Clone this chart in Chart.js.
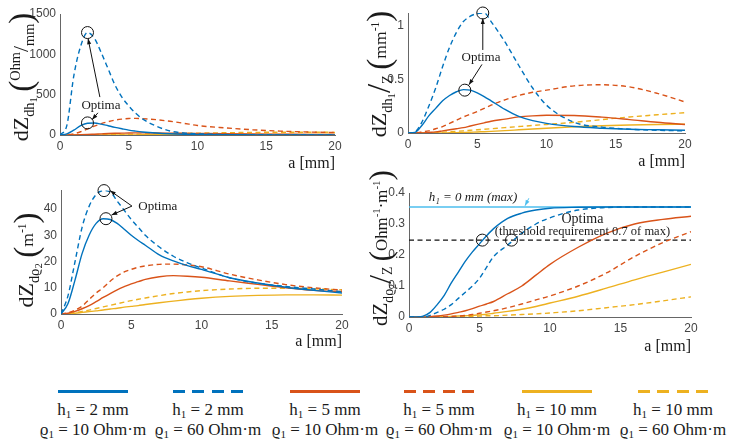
<!DOCTYPE html>
<html>
<head>
<meta charset="utf-8">
<script src="https://cdn.jsdelivr.net/npm/chart.js@4.4.0/dist/chart.umd.min.js"></script>
<style>
  body { margin: 0; width: 734px; height: 448px; background: #fff; position: relative; overflow: hidden; font-family: "Liberation Serif", serif; color: #1a1a1a; }
  canvas { position: absolute; }
  .ylab { position: absolute; transform: translate(-50%, -50%) rotate(-90deg); white-space: nowrap; font-size: 22px; line-height: 1; }
  .ylab sub { font-size: 65%; vertical-align: -0.4em; }
  .ylab sub sub { font-size: 75%; vertical-align: -0.3em; }
  .ylab sup { font-size: 65%; vertical-align: 0.6em; }
  .ylab .par { font-size: 150%; font-weight: 100; vertical-align: -0.12em; }
  .ylab .sm { font-size: 80%; }
  .leg { position: absolute; width: 130px; text-align: center; font-size: 17px; line-height: 20px; }
  .leg .ln { width: 70px; height: 3px; margin: 0 auto 7px auto; }
  .leg sub { font-size: 65%; vertical-align: -0.25em; line-height: 0; }
</style>
</head>
<body>
<canvas id="cA" width="367" height="175" style="left:0;top:0"></canvas>
<canvas id="cB" width="367" height="175" style="left:367px;top:0"></canvas>
<canvas id="cC" width="367" height="185" style="left:0;top:175px"></canvas>
<canvas id="cD" width="367" height="185" style="left:367px;top:175px"></canvas>

<div class="ylab" style="left:22px;top:77px">dZ<sub>dh<sub>1</sub></sub>&nbsp;<span class="par">(</span><sup>Ohm</sup>/<sub>mm</sub><span class="par">)</span></div>
<div class="ylab" style="left:380px;top:74px">dZ<sub>dh<sub>1</sub></sub><span class="par">/</span><sub>Z</sub>&nbsp;<span class="par">(</span><span class="sm">mm<sup>-1</sup></span><span class="par">)</span></div>
<div class="ylab" style="left:27px;top:260px">dZ<sub>dϱ<sub>2</sub></sub>&nbsp;<span class="par">(</span><span class="sm">m<sup>-1</sup></span><span class="par">)</span></div>
<div class="ylab" style="left:381px;top:248px;font-size:21px">dZ<sub>dϱ<sub>2</sub></sub><span class="par">/</span><sub>Z</sub>&nbsp;<span class="par">(</span><span class="sm">Ohm<sup>-1</sup>·m<sup>-1</sup></span><span class="par">)</span></div>

<div id="legend"></div>

<script>
// a [mm] sample points shared by every curve
const aPts = [0, 0.5, 1, 1.5, 2, 2.5, 3, 3.5, 4, 4.5, 5, 5.5, 6, 7, 8, 9, 10, 12, 14, 16, 18, 20];

// dZ/dh1 (Ohm/mm)
const dh1_h2_r10 = [0, 15, 60, 115, 145, 148, 135, 115, 95, 77, 60, 48, 38, 24, 15, 10, 7, 3, 2, 1, 1, 0];
const dh1_h2_r60 = [0, 120, 730, 1100, 1270, 1200, 1020, 820, 620, 470, 360, 270, 200, 110, 50, 25, 15, 6, 3, 2, 1, 1];
const dh1_h5_r10 = [0, 0, 1, 3, 6, 10, 14, 18, 21, 23, 25, 26, 26, 25, 23, 21, 19, 15, 12, 10, 8, 7];
const dh1_h5_r60 = [0, 2, 15, 40, 75, 110, 140, 165, 185, 197, 205, 206, 203, 190, 170, 145, 118, 88, 65, 48, 37, 30];
const dh1_h10_r10 = [0, 0, 0, 0, 0, 0, 1, 1, 1, 2, 2, 2, 3, 3, 4, 4, 5, 5, 6, 6, 6, 6];
const dh1_h10_r60 = [0, 0, 0, 1, 1, 2, 3, 4, 5, 6, 8, 9, 11, 14, 17, 20, 23, 28, 32, 34, 34, 33];

// dZ/dh1 / Z (mm^-1)
const rel1_h2_r10 = [0, 0.005, 0.07, 0.16, 0.23, 0.3, 0.35, 0.385, 0.405, 0.4, 0.375, 0.34, 0.3, 0.22, 0.155, 0.115, 0.09, 0.06, 0.045, 0.035, 0.03, 0.025];
const rel1_h2_r60 = [0, 0.01, 0.1, 0.25, 0.42, 0.62, 0.8, 0.94, 1.04, 1.09, 1.115, 1.12, 1.04, 0.85, 0.63, 0.42, 0.26, 0.1, 0.055, 0.035, 0.025, 0.02];
const rel1_h5_r10 = [0, 0, 0, 0.005, 0.01, 0.02, 0.03, 0.04, 0.05, 0.065, 0.08, 0.095, 0.11, 0.13, 0.15, 0.16, 0.165, 0.163, 0.148, 0.125, 0.1, 0.08];
const rel1_h5_r60 = [0, 0, 0.01, 0.02, 0.04, 0.06, 0.09, 0.12, 0.15, 0.175, 0.2, 0.23, 0.26, 0.31, 0.35, 0.38, 0.4, 0.44, 0.45, 0.43, 0.37, 0.29];
const rel1_h10_r10 = [0, 0, 0, 0, 0, 0, 0.002, 0.003, 0.005, 0.007, 0.01, 0.012, 0.015, 0.022, 0.03, 0.038, 0.045, 0.058, 0.068, 0.075, 0.08, 0.082];
const rel1_h10_r60 = [0, 0, 0, 0, 0.005, 0.008, 0.012, 0.016, 0.02, 0.025, 0.03, 0.035, 0.04, 0.05, 0.06, 0.07, 0.08, 0.1, 0.125, 0.15, 0.17, 0.19];

// dZ/drho2 (m^-1)
const dr2_h2_r10 = [0, 4, 13, 23, 30, 34.5, 36.3, 36, 34.5, 32.3, 30, 28, 26.2, 22.5, 20.2, 18.4, 17, 13.8, 11.8, 10.2, 9, 8];
const dr2_h2_r60 = [0, 7, 20, 33, 41, 45.5, 47, 46.5, 43, 39.5, 36, 33, 30, 25.5, 22, 19.5, 17.5, 13.8, 11.7, 10.5, 9.5, 8.5];
const dr2_h5_r10 = [0, 0.3, 1, 2, 3.2, 4.7, 6.3, 7.8, 9.2, 10.4, 11.5, 12.3, 13.2, 14.2, 14.6, 14.4, 14, 12.6, 11.3, 10, 9, 8.5];
const dr2_h5_r60 = [0, 0.5, 1.5, 3, 5.5, 8, 10, 12.5, 14.5, 16, 17, 17.8, 18.3, 18.9, 19, 18.7, 18, 15.2, 13, 11.2, 10, 9.1];
const dr2_h10_r10 = [0, 0.1, 0.3, 0.6, 0.9, 1.2, 1.5, 1.9, 2.2, 2.6, 2.9, 3.2, 3.6, 4.3, 4.9, 5.5, 6, 6.7, 7.1, 7.3, 7.3, 7.2];
const dr2_h10_r60 = [0, 0.2, 0.5, 1, 1.5, 2.1, 2.7, 3.3, 3.9, 4.5, 5.1, 5.6, 6.1, 7, 7.8, 8.4, 8.9, 9.5, 9.8, 9.8, 9.6, 9.2];

// dZ/drho2 / Z (Ohm^-1 m^-1)
const rel2_h2_r10 = [0, 0, 0.003, 0.015, 0.04, 0.07, 0.11, 0.145, 0.18, 0.21, 0.236, 0.262, 0.285, 0.318, 0.335, 0.345, 0.351, 0.354, 0.355, 0.355, 0.355, 0.355];
const rel2_h2_r60 = [0, 0, 0, 0.005, 0.015, 0.025, 0.04, 0.06, 0.08, 0.1, 0.125, 0.16, 0.195, 0.232, 0.27, 0.3, 0.32, 0.345, 0.353, 0.355, 0.355, 0.355];
const rel2_h5_r10 = [0, 0, 0, 0.001, 0.003, 0.006, 0.01, 0.015, 0.02, 0.027, 0.035, 0.042, 0.05, 0.075, 0.1, 0.135, 0.17, 0.225, 0.27, 0.3, 0.315, 0.325];
const rel2_h5_r60 = [0, 0, 0, 0, 0, 0.001, 0.002, 0.003, 0.005, 0.008, 0.012, 0.016, 0.02, 0.03, 0.042, 0.055, 0.068, 0.1, 0.142, 0.195, 0.24, 0.275];
const rel2_h10_r10 = [0, 0, 0, 0, 0, 0.001, 0.002, 0.003, 0.004, 0.005, 0.007, 0.009, 0.012, 0.018, 0.025, 0.034, 0.045, 0.067, 0.093, 0.12, 0.145, 0.17];
const rel2_h10_r60 = [0, 0, 0, 0, 0, 0, 0, 0.001, 0.001, 0.002, 0.003, 0.004, 0.004, 0.006, 0.008, 0.01, 0.013, 0.02, 0.03, 0.04, 0.052, 0.065];

// reference levels in the last panel
const levelA = [0, 20];
const maxLevel = 0.355;      // h1 = 0 mm (max)
const threshold = 0.248;     // 0.7 of max

// optima markers [a, value]
const optimaA = [[2, 1270], [2, 150]];
const optimaB = [[5.4, 1.12], [4.1, 0.4]];
const optimaC = [[3.06, 47], [3.2, 36.3]];
const optimaD = [[5.2, threshold], [7.27, threshold]];

// legend entries
const legendH = ['2', '2', '5', '5', '10', '10'];
const legendRho = ['10', '60', '10', '60', '10', '60'];

const BLUE = '#0072BD', ORANGE = '#D95319', YELLOW = '#EDB120', SKY = '#4DBEEE';
const DASH = [5, 3.5];
const styles = [
  { color: BLUE, dash: [] }, { color: BLUE, dash: DASH },
  { color: ORANGE, dash: [] }, { color: ORANGE, dash: DASH },
  { color: YELLOW, dash: [] }, { color: YELLOW, dash: DASH }
];

Chart.defaults.font.family = '"Liberation Sans", Arial, sans-serif';
Chart.defaults.font.size = 12;
Chart.defaults.color = '#444';

const SERIF = '"Liberation Serif", serif';

const notesPlugin = {
  id: 'notes',
  afterDatasetsDraw(chart, args, opts) {
    const { ctx } = chart;
    const x = chart.scales.x, y = chart.scales.y;
    ctx.save();
    (opts.arrows || []).forEach(ar => {
      const x1 = x.getPixelForValue(ar.from[0]), y1 = y.getPixelForValue(ar.from[1]);
      const x2 = x.getPixelForValue(ar.to[0]), y2 = y.getPixelForValue(ar.to[1]);
      ctx.strokeStyle = ar.color || '#111';
      ctx.fillStyle = ar.color || '#111';
      ctx.lineWidth = 1;
      ctx.beginPath(); ctx.moveTo(x1, y1); ctx.lineTo(x2, y2); ctx.stroke();
      const ang = Math.atan2(y2 - y1, x2 - x1), h = 6;
      ctx.beginPath();
      ctx.moveTo(x2, y2);
      ctx.lineTo(x2 - h * Math.cos(ang - 0.35), y2 - h * Math.sin(ang - 0.35));
      ctx.lineTo(x2 - h * Math.cos(ang + 0.35), y2 - h * Math.sin(ang + 0.35));
      ctx.closePath(); ctx.fill();
    });
    (opts.texts || []).forEach(t => {
      ctx.font = t.font || ('13px ' + SERIF);
      ctx.fillStyle = '#1a1a1a';
      ctx.textAlign = t.align || 'center';
      ctx.textBaseline = 'middle';
      ctx.fillText(t.text, x.getPixelForValue(t.at[0]), y.getPixelForValue(t.at[1]));
    });
    ctx.restore();
  }
};

function curve(vals) {
  return aPts.map((a, i) => ({ x: a, y: vals[i] }));
}

function build(id, cfg) {
  const datasets = cfg.series.map((vals, i) => ({
    data: curve(vals),
    borderColor: styles[i].color,
    borderDash: styles[i].dash,
    borderWidth: 1.4,
    pointRadius: 0,
    cubicInterpolationMode: 'monotone',
    fill: false
  }));
  (cfg.extra || []).forEach(d => datasets.push(d));
  datasets.push({
    data: cfg.optima.map(p => ({ x: p[0], y: p[1] })),
    showLine: false,
    pointRadius: 6,
    pointStyle: 'circle',
    pointBackgroundColor: 'rgba(0,0,0,0)',
    pointBorderColor: '#111',
    pointBorderWidth: 1,
    clip: false,
    order: -1
  });

  new Chart(document.getElementById(id), {
    type: 'line',
    data: { datasets },
    plugins: [notesPlugin],
    options: {
      responsive: false,
      animation: false,
      events: [],
      layout: { padding: cfg.pad },
      plugins: {
        legend: { display: false },
        tooltip: { enabled: false },
        notes: cfg.notes
      },
      scales: {
        x: {
          type: 'linear', min: 0, max: 20,
          ticks: { stepSize: 5, padding: 4 },
          grid: { display: false, drawTicks: false },
          border: { display: true, color: '#666', width: 1 },
          title: { display: true, text: 'a [mm]', align: 'end', color: '#1a1a1a',
                   font: { family: SERIF, size: 16 }, padding: { top: 0, bottom: cfg.titlePad } },
          afterFit: s => { s.height = cfg.xH; }
        },
        y: {
          min: 0, max: cfg.yMax,
          ticks: { stepSize: cfg.yStep, padding: 4, includeBounds: false,
                   callback: v => String(+v.toFixed(3)) },
          grid: { display: false, drawTicks: false },
          border: { display: true, color: '#666', width: 1 },
          afterFit: s => { s.width = cfg.yW; }
        }
      }
    }
  });
}

build('cA', {
  series: [dh1_h2_r10, dh1_h2_r60, dh1_h5_r10, dh1_h5_r60, dh1_h10_r10, dh1_h10_r60],
  yMax: 1500, yStep: 500, yW: 60, xH: 40, titlePad: 2,
  pad: { left: 0, top: 14, right: 32, bottom: 0 },
  optima: optimaA,
  notes: {
    texts: [{ text: 'Optima', at: [2.98, 360] }],
    arrows: [{ from: [2.9, 470], to: [2.04, 1195] }, { from: [2.76, 275], to: [2.33, 190] }]
  }
});

build('cB', {
  series: [rel1_h2_r10, rel1_h2_r60, rel1_h5_r10, rel1_h5_r60, rel1_h10_r10, rel1_h10_r60],
  yMax: 1.12, yStep: 0.5, yW: 41, xH: 42, titlePad: 4,
  pad: { left: 0, top: 13, right: 49, bottom: 0 },
  optima: optimaB,
  notes: {
    texts: [{ text: 'Optima', at: [5.27, 0.7] }],
    arrows: [{ from: [5.4, 0.775], to: [5.4, 1.07] }, { from: [5.34, 0.64], to: [4.4, 0.45] }]
  }
});

build('cC', {
  series: [dr2_h2_r10, dr2_h2_r60, dr2_h5_r10, dr2_h5_r60, dr2_h10_r10, dr2_h10_r60],
  yMax: 47, yStep: 10, yW: 61, xH: 46, titlePad: 9,
  pad: { left: 0, top: 15.6, right: 25, bottom: 0 },
  optima: optimaC,
  notes: {
    texts: [{ text: 'Optima', at: [5.5, 41.1], align: 'left' }],
    arrows: [{ from: [5.05, 41.1], to: [3.49, 47] }, { from: [5.05, 41.1], to: [3.6, 37.7] }]
  }
});

build('cD', {
  series: [rel2_h2_r10, rel2_h2_r60, rel2_h5_r10, rel2_h5_r60, rel2_h10_r10, rel2_h10_r60],
  yMax: 0.4, yStep: 0.1, yW: 42, xH: 43, titlePad: 4,
  pad: { left: 0, top: 18, right: 43, bottom: 0 },
  optima: optimaD,
  extra: [
    { data: levelA.map(a => ({ x: a, y: maxLevel })), borderColor: SKY, borderWidth: 1.4, pointRadius: 0, order: 1 },
    { data: levelA.map(a => ({ x: a, y: threshold })), borderColor: '#111', borderDash: DASH, borderWidth: 1.2, pointRadius: 0 }
  ],
  notes: {
    texts: [
      { text: 'h\u2081 = 0 mm (max)', at: [4.54, 0.384], font: 'italic 13px ' + SERIF },
      { text: 'Optima', at: [12.3, 0.316], font: '14px ' + SERIF },
      { text: '(threshold requirement 0.7 of max)', at: [12.3, 0.275], font: '12.5px ' + SERIF }
    ],
    arrows: [{ from: [8.5, 0.383], to: [8.23, 0.359], color: SKY }]
  }
});

// shared legend under the panels
const legendX = [93, 208, 325, 439, 557, 673];
const legend = document.getElementById('legend');
legendX.forEach((cx, i) => {
  const item = document.createElement('div');
  item.className = 'leg';
  item.style.left = (cx - 65) + 'px';
  item.style.top = '390px';
  const st = styles[i];
  const bg = st.dash.length
    ? `repeating-linear-gradient(to right, ${st.color} 0 12px, transparent 12px 19.3px)`
    : st.color;
  item.innerHTML = `
    <div class="ln" style="background:${bg}"></div>
    <div>h<sub>1</sub> = ${legendH[i]} mm</div>
    <div>ϱ<sub>1</sub> = ${legendRho[i]} Ohm·m</div>
  `;
  legend.appendChild(item);
});
</script>
</body>
</html>
